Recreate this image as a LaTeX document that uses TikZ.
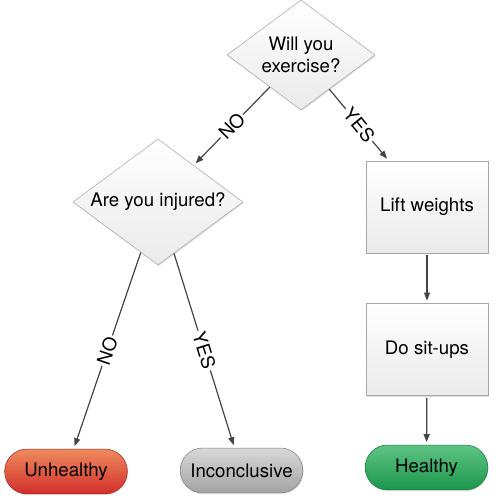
\documentclass[tikz,border=0pt]{standalone}
\usepackage{fontspec}
\setmainfont{TeX Gyre Heros}
\usetikzlibrary{shapes.geometric,arrows.meta,shadows}

\definecolor{boxline}{HTML}{A8A8A8}
\definecolor{boxfill}{HTML}{EAEAEA}
\definecolor{wireline}{HTML}{444444}
\definecolor{redtop}{HTML}{EE8B5D}
\definecolor{redbot}{HTML}{D22E2A}
\definecolor{greentop}{HTML}{5EC485}
\definecolor{greenbot}{HTML}{1C964B}
\definecolor{greytop}{HTML}{D8D8D8}
\definecolor{greybot}{HTML}{A3A3A3}

\begin{document}
\begin{tikzpicture} [
				x=0.75pt, y=0.75pt,
				every node/.style={font=\fontsize{14}{17}\selectfont},
				softshadow/.style={drop shadow={shadow xshift=0.6pt, shadow yshift=-0.8pt, opacity=0.25}},
				question/.style={diamond, draw=boxline, top color=white, bottom color=boxfill, aspect=1.35, inner sep=1pt, align=center, softshadow},
				action/.style={rectangle, draw=boxline, top color=white, bottom color=boxfill, minimum width=91.5pt, minimum height=69pt, softshadow},
				outcome/.style={rectangle, rounded corners=16.8pt, minimum width=92pt, minimum height=33.7pt, softshadow},
				wire/.style={draw=wireline, line width=0.9pt, -{Triangle[length=6pt,width=4.5pt]}, shorten >=2pt},
				answer/.style={sloped, fill=white, inner sep=1.5pt}
			]
			\useasboundingbox (0,0) rectangle (500,499);

			% questions
			\node[question, minimum width=111pt, minimum height=82.5pt] (exercise) at (301,444) {Will you\\exercise?};
			\node[question, minimum width=127.5pt, minimum height=94.5pt] (injured) at (158,297) {Are you injured?};

			% workout
			\node[action] (lift) at (427,292) {Lift weights};
			\node[action] (situps) at (427,149.5) {Do sit-ups};

			% results
			\node[outcome, draw=redbot!80!black, top color=redtop, bottom color=redbot] (unhealthy) at (66,27.5) {Unhealthy};
			\node[outcome, draw=greybot!80!black, top color=greytop, bottom color=greybot] (inconclusive) at (241.5,28.5) {Inconclusive};
			\node[outcome, draw=greenbot!80!black, top color=greentop, bottom color=greenbot] (healthy) at (426.5,31.5) {Healthy};

			\draw[wire] (exercise) -- node[answer] {NO} (injured);
			\draw[wire] (exercise) -- node[answer] {YES} (lift);
			\draw[wire] (injured) -- node[answer] {NO} (unhealthy);
			\draw[wire] (injured) -- node[answer] {YES} (inconclusive);
			\draw[wire, shorten <=1.5pt] (lift) -- (situps);
			\draw[wire, shorten <=1.5pt] (situps) -- (healthy);
		\end{tikzpicture}
\end{document}
